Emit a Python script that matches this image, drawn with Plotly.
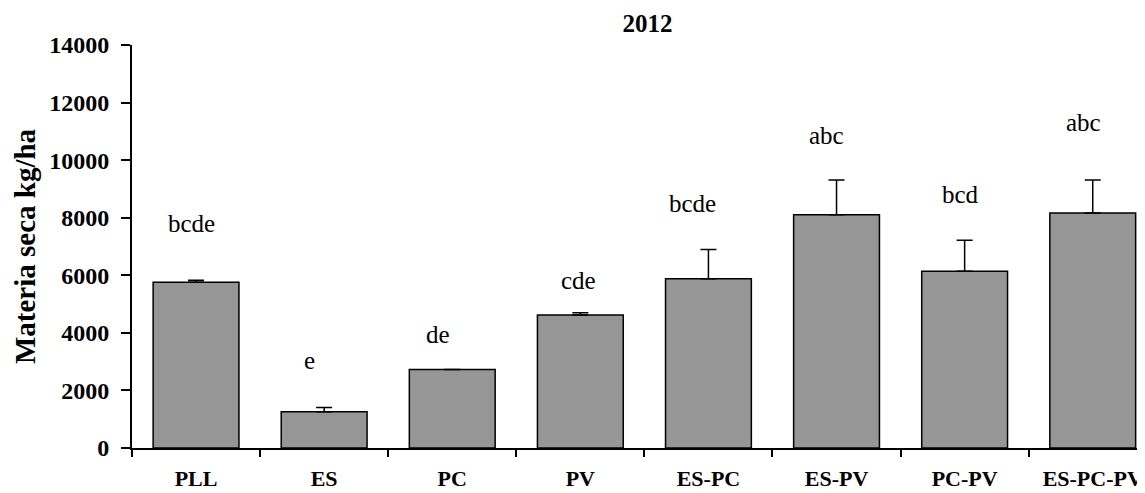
import plotly.graph_objects as go

categories = ["PLL", "ES", "PC", "PV", "ES-PC", "ES-PV", "PC-PV", "ES-PC-PV"]
materia_seca = [5755, 1260, 2730, 4620, 5880, 8105, 6140, 8165]
error_plus = [70, 150, 0, 80, 1020, 1205, 1075, 1145]
letters = ["bcde", "e", "de", "cde", "bcde", "abc", "bcd", "abc"]
y_ticks = [0, 2000, 4000, 6000, 8000, 10000, 12000, 14000]

# annotation placement (layout only)
label_y = [7780, 3000, 3925, 5777, 8475, 10813, 8788, 11277]
label_dx = [-5, -15, -14, -2, -16, -10, -4, -9]

FONT = "Liberation Serif"

fig = go.Figure()
fig.add_trace(go.Bar(
    x=categories,
    y=materia_seca,
    marker=dict(color="#969696", line=dict(color="black", width=1.5)),
    error_y=dict(type="data", symmetric=False, array=error_plus,
                 arrayminus=[0] * len(error_plus),
                 color="black", thickness=1.5, width=8),
    showlegend=False,
))

for c, t, ly, dx in zip(categories, letters, label_y, label_dx):
    fig.add_annotation(x=c, y=ly, text=t, showarrow=False, xshift=dx, yshift=1,
                       yanchor="middle", xanchor="center",
                       font=dict(family=FONT, size=25, color="black"))

# the page body has an 8px margin, so the figure is sized to fill the window
fig.update_layout(
    width=1137, height=485,
    margin=dict(l=124, r=0, t=37, b=45, pad=0, autoexpand=False),
    paper_bgcolor="white", plot_bgcolor="white",
    bargap=0.33,
    font=dict(family=FONT, color="black"),
    title=dict(text="<b>2012</b>", x=0.509, xref="paper", xanchor="center",
               y=1 - 15 / 485, yref="container", yanchor="middle",
               font=dict(family=FONT, size=25, color="black")),
    xaxis=dict(
        type="category",
        automargin=False,
        range=[-0.5, 7.408],
        tickmode="array", tickvals=categories,
        ticktext=["<b>%s</b>" % c for c in categories],
        tickson="boundaries",
        showline=True, linecolor="black", linewidth=2,
        ticks="outside", ticklen=7, tickwidth=1.5, tickcolor="black",
        showgrid=False, zeroline=False,
        tickfont=dict(family=FONT, size=22, color="black"),
        ticklabelstandoff=10,
    ),
    yaxis=dict(
        automargin=False,
        range=[0, 14000],
        tickmode="array", tickvals=y_ticks,
        ticktext=["<b>%d</b>" % v for v in y_ticks],
        showline=True, linecolor="black", linewidth=2,
        ticks="outside", ticklen=9, tickwidth=1.5, tickcolor="black",
        showgrid=False, zeroline=False,
        tickfont=dict(family=FONT, size=24, color="black"),
        ticklabelstandoff=7,
        title=dict(text="<b>Materia seca kg/ha</b>", standoff=5,
                   font=dict(family=FONT, size=29, color="black")),
    ),
)

fig.write_html("out.html")
